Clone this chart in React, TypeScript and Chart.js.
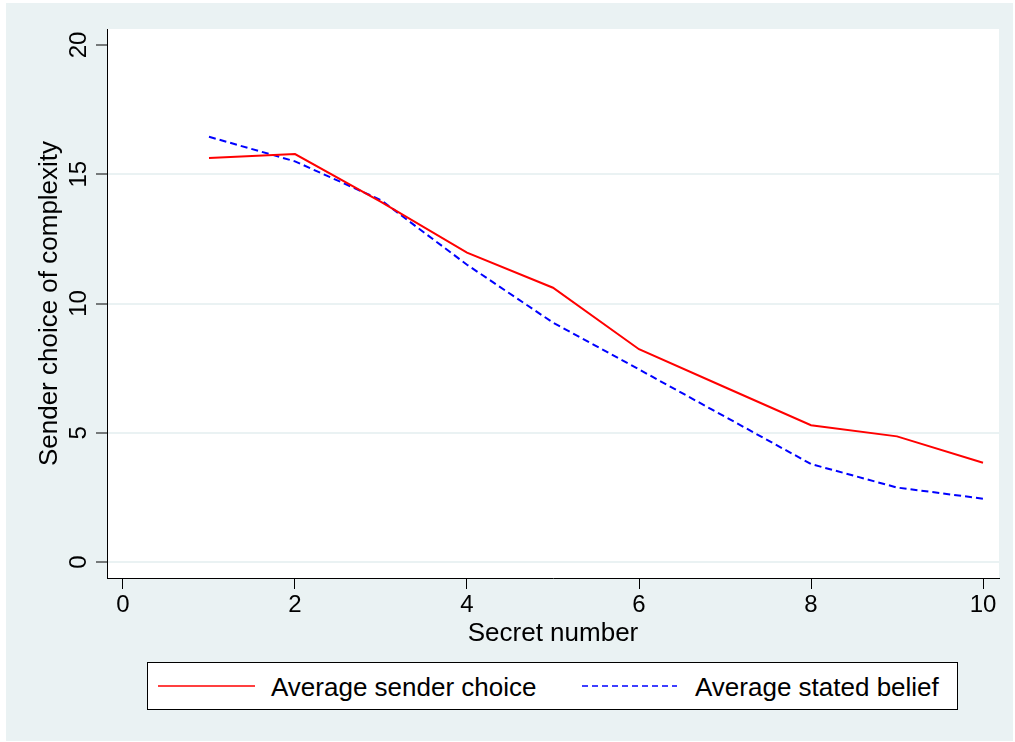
import React, { useEffect, useRef } from "react";
import { Chart, registerables } from "chart.js";

Chart.register(...registerables);

const secretNumbers = [1, 2, 3, 4, 5, 6, 7, 8, 9, 10];
const avgSenderChoice = [15.63, 15.78, 13.93, 11.97, 10.61, 8.23, 6.76, 5.29, 4.86, 3.84];
const avgStatedBelief = [16.45, 15.5, 14.0, 11.5, 9.26, 7.45, 5.62, 3.79, 2.88, 2.45];
const xTickValues = [0, 2, 4, 6, 8, 10];
const yTickValues = [0, 5, 10, 15, 20];
const seriesLabels = ["Average sender choice", "Average stated belief"];
const xTitle = "Secret number";
const yTitle = "Sender choice of complexity";

const FONT = "'Liberation Sans', Arial, Helvetica, sans-serif";
const BG = "#eaf2f3";

export default function App() {
  const ref = useRef<HTMLCanvasElement>(null);

  useEffect(() => {
    const canvas = ref.current!;
    const plotBg = {
      id: "plotBg",
      beforeDraw(chart: any) {
        const { ctx, chartArea: a } = chart;
        ctx.save();
        ctx.fillStyle = "#ffffff";
        ctx.fillRect(a.left, a.top, a.right - a.left, a.bottom - a.top);
        ctx.restore();
      },
    };
    const yLabels = {
      id: "yLabels",
      afterDraw(chart: any) {
        const s = chart.scales.y;
        const ctx = chart.ctx;
        ctx.save();
        ctx.fillStyle = "#000";
        ctx.font = `24px ${FONT}`;
        ctx.textAlign = "center";
        ctx.textBaseline = "alphabetic";
        for (const t of s.ticks) {
          const py = s.getPixelForValue(t.value);
          ctx.save();
          ctx.translate(80, py);
          ctx.rotate(-Math.PI / 2);
          ctx.fillText(String(t.value), 0, 0);
          ctx.restore();
        }
        ctx.restore();
      },
    };

    const chart = new Chart(canvas, {
      type: "line",
      data: {
        datasets: [
          {
            label: seriesLabels[0],
            data: secretNumbers.map((x, i) => ({ x, y: avgSenderChoice[i] })),
            borderColor: "#ff0000",
            backgroundColor: "#ff0000",
            borderWidth: 2,
            pointRadius: 0,
            fill: false,
            tension: 0,
          },
          {
            label: seriesLabels[1],
            data: secretNumbers.map((x, i) => ({ x, y: avgStatedBelief[i] })),
            borderColor: "#0000ff",
            backgroundColor: "#0000ff",
            borderWidth: 2,
            borderDash: [7, 4],
            pointRadius: 0,
            fill: false,
            tension: 0,
          },
        ],
      },
      options: {
        animation: false,
        responsive: false,
        devicePixelRatio: 1,
        layout: { padding: { left: 0, top: 26, right: 14, bottom: 92 } },
        plugins: { legend: { display: false }, tooltip: { enabled: false } },
        scales: {
          x: {
            type: "linear",
            min: -0.186,
            max: 10.186,
            afterBuildTicks: (s: any) => {
              s.ticks = xTickValues.map((v) => ({ value: v }));
            },
            afterFit: (s: any) => {
              s.height = 71;
            },
            grid: {
              drawOnChartArea: false,
              drawTicks: true,
              tickLength: 11,
              tickColor: "#000",
              tickWidth: 1,
            },
            border: { display: true, color: "#000", width: 1 },
            ticks: {
              color: "#000",
              font: { family: FONT, size: 24 },
              padding: 2,
              maxRotation: 0,
              autoSkip: false,
            },
            title: {
              display: true,
              text: xTitle,
              color: "#000",
              font: { family: FONT, size: 26 },
              padding: { top: 0, bottom: 0 },
            },
          },
          y: {
            type: "linear",
            min: -0.62,
            max: 20.62,
            afterBuildTicks: (s: any) => {
              s.ticks = yTickValues.map((v) => ({ value: v }));
            },
            afterFit: (s: any) => {
              s.width = 101;
            },
            grid: {
              color: (c: any) => (c.tick && c.tick.value === 20 ? "rgba(0,0,0,0)" : BG),
              lineWidth: 2,
              drawTicks: true,
              tickLength: 11,
              tickColor: "#000",
              tickWidth: 1,
            },
            border: { display: true, color: "#000", width: 1 },
            ticks: { display: false },
            title: {
              display: true,
              text: yTitle,
              color: "#000",
              font: { family: FONT, size: 26 },
              padding: { top: 28, bottom: 0 },
            },
          },
        },
      },
      plugins: [plotBg, yLabels],
    } as any);
    return () => chart.destroy();
  }, []);

  return (
    <div
      style={{
        position: "absolute",
        left: 0,
        top: 0,
        width: 1015,
        height: 742,
        background: "#ffffff",
        overflow: "hidden",
      }}
    >
      <div
        style={{
          position: "absolute",
          left: 6,
          top: 3,
          width: 1007,
          height: 738,
          background: BG,
        }}
      />
      <canvas
        ref={ref}
        width={1007}
        height={738}
        style={{ position: "absolute", left: 6, top: 3, width: 1007, height: 738 }}
      />
      <svg
        width={811}
        height={48}
        style={{ position: "absolute", left: 147, top: 662 }}
      >
        <rect x={0.5} y={0.5} width={810} height={47} fill="#ffffff" stroke="#000" strokeWidth={1} />
        <line x1={11} y1={24} x2={108} y2={24} stroke="#ff0000" strokeWidth={1.5} />
        <text x={124} y={34} fontFamily={FONT} fontSize={26} fill="#000">
          {seriesLabels[0]}
        </text>
        <line
          x1={435}
          y1={24}
          x2={530}
          y2={24}
          stroke="#0000ff"
          strokeWidth={1.5}
          strokeDasharray="6 4"
        />
        <text x={548} y={34} fontFamily={FONT} fontSize={26} fill="#000">
          {seriesLabels[1]}
        </text>
      </svg>
    </div>
  );
}
